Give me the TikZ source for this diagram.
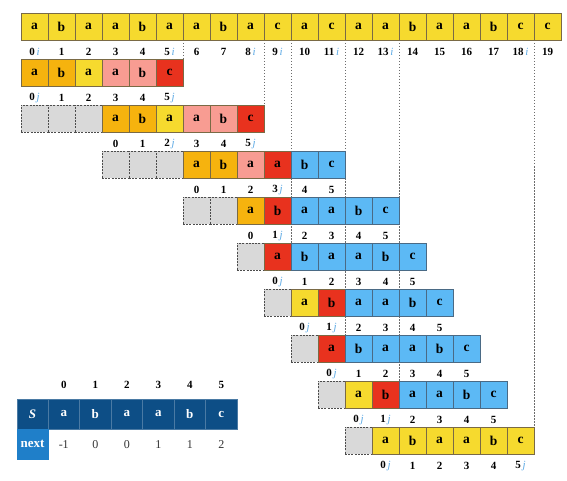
\documentclass[tikz,border=0pt]{standalone}
\usepackage{fontspec}
\setmainfont{Liberation Serif}
\definecolor{cy}{HTML}{F6DA2E}
\definecolor{co}{HTML}{F6B30E}
\definecolor{cp}{HTML}{F89C92}
\definecolor{cr}{HTML}{E8321E}
\definecolor{cb}{HTML}{5CB9F5}
\definecolor{cg}{HTML}{D9D9D9}
\definecolor{bw}{HTML}{7A6A45}
\definecolor{bb}{HTML}{4A6A85}
\definecolor{ibl}{HTML}{5AA8E4}
\definecolor{sdark}{HTML}{0D4E86}
\definecolor{snext}{HTML}{1F7FC9}
\definecolor{valc}{HTML}{333333}
\pgfdeclarelayer{bg}
\pgfsetlayers{bg,main}
\tikzset{
 cell/.style={line width=0.8pt, minimum width=27pt, minimum height=27pt, inner sep=0pt, outer sep=0pt, font=\bfseries\fontsize{13.5}{13.5}\selectfont},
 Y/.style={cell, fill=cy, draw=bw},
 O/.style={cell, fill=co, draw=bw},
 P/.style={cell, fill=cp, draw=bw},
 R/.style={cell, fill=cr, draw=bw},
 B/.style={cell, fill=cb, draw=bb},
 G/.style={cell, fill=cg, draw=gray!60!black, dash pattern=on 2pt off 1.2pt},
 idx/.style={font=\bfseries\fontsize{11}{11}\selectfont, inner sep=0pt},
 guide/.style={draw=gray!85!black, line width=0.7pt, dash pattern=on 1.5pt off 1.5pt},
 tcell/.style={minimum width=31.5pt, minimum height=30pt, inner sep=0pt, outer sep=0pt, draw=sdark!75!white, line width=0.4pt, text=white, font=\bfseries\fontsize{13}{13}\selectfont},
 val/.style={inner sep=0pt, text=valc, font=\fontsize{12}{12}\selectfont},
}
\newcommand\I[1]{#1\,{\color{ibl}\mdseries\itshape i}}
\newcommand\J[1]{#1\,{\color{ibl}\mdseries\itshape j}}
\newcommand\mkrow[4]{%
 \foreach \st/\lt [count=\k from 0] in {#3} {
   \pgfmathtruncatemacro\cc{#2+\k}
   \node[\st] (r#1-\cc) at ({21+27*\cc+13.5},{13+46*#1+13.5}) {\lt};
 }
 \foreach \lb [count=\k from 0] in {#4} {
   \pgfmathtruncatemacro\cc{#2+\k}
   \node[idx] (l#1-\cc) at ({21+27*\cc+13.5},{13+46*#1+39}) {\lb};
 }
}
\begin{document}
\begin{tikzpicture}[x=1pt,y=-1pt]
\useasboundingbox (0,0) rectangle (567,481);
% rows
\mkrow{0}{0}{Y/a,Y/b,Y/a,Y/a,Y/b,Y/a,Y/a,Y/b,Y/a,Y/c,Y/a,Y/c,Y/a,Y/a,Y/b,Y/a,Y/a,Y/b,Y/c,Y/c}
 {\I{0},1,2,3,4,\I{5},6,7,\I{8},\I{9},10,\I{11},12,\I{13},14,15,16,17,\I{18},19}
\mkrow{1}{0}{O/a,O/b,Y/a,P/a,P/b,R/c}{\J{0},1,2,3,4,\J{5}}
\mkrow{2}{0}{G/{},G/{},G/{},O/a,O/b,Y/a,P/a,P/b,R/c}{{},{},{},0,1,\J{2},3,4,\J{5}}
\mkrow{3}{3}{G/{},G/{},G/{},O/a,O/b,P/a,R/a,B/b,B/c}{{},{},{},0,1,2,\J{3},4,5}
\mkrow{4}{6}{G/{},G/{},O/a,R/b,B/a,B/a,B/b,B/c}{{},{},0,\J{1},2,3,4,5}
\mkrow{5}{8}{G/{},R/a,B/b,B/a,B/a,B/b,B/c}{{},\J{0},1,2,3,4,5}
\mkrow{6}{9}{G/{},Y/a,R/b,B/a,B/a,B/b,B/c}{{},\J{0},\J{1},2,3,4,5}
\mkrow{7}{10}{G/{},R/a,B/b,B/a,B/a,B/b,B/c}{{},\J{0},1,2,3,4,5}
\mkrow{8}{11}{G/{},Y/a,R/b,B/a,B/a,B/b,B/c}{{},\J{0},\J{1},2,3,4,5}
\mkrow{9}{12}{G/{},Y/a,Y/b,Y/a,Y/a,Y/b,Y/c}{{},\J{0},1,2,3,4,\J{5}}
% guide lines
\begin{pgfonlayer}{bg}
\draw[guide] (r0-5.south east) -- (r1-5.north east);
\draw[guide] (r0-8.south east) -- (r2-8.north east);
\draw[guide] (r0-9.south east) -- (r5-9.north east);
\draw[guide] (r0-11.south east) -- (r7-11.north east);
\draw[guide] (r0-13.south east) -- (r8-13.north east);
\draw[guide] (r0-18.south east) -- (r9-18.north east);
\end{pgfonlayer}
% next table
\foreach \k in {0,...,5} {
  \node[idx] (h\k) at ({48+31.5*\k+15.75},385) {\k};
}
\node[tcell, fill=sdark, minimum width=31pt] (S) at (32.5,414) {\textit{S}};
\foreach \lt [count=\k from 0] in {a,b,a,a,b,c} {
  \node[tcell, fill=sdark] (s\k) at ({48+31.5*\k+15.75},414) {\lt};
}
\node[tcell, fill=snext, draw=snext, minimum width=31pt] (nx) at (32.5,444) {next};
\foreach \v [count=\k from 0] in {-1,0,0,1,1,2} {
  \node[val] (v\k) at ({48+31.5*\k+15.75},445) {\v};
}
\end{tikzpicture}
\end{document}
